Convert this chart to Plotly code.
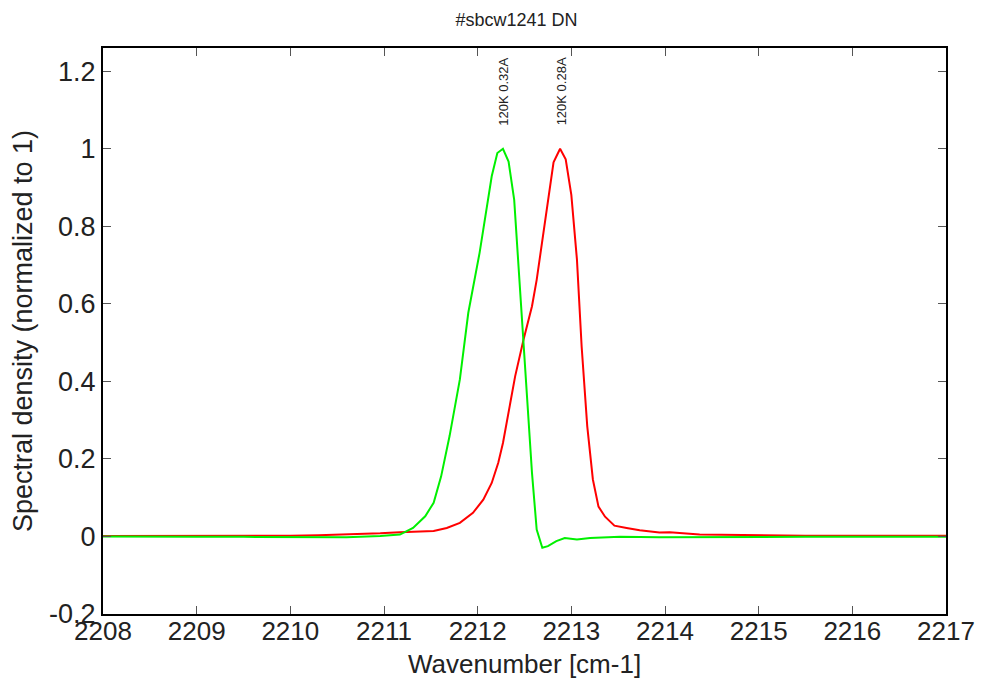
import plotly.graph_objects as go

# Green series: 120K 0.32A
green_x = [2208.0, 2208.5, 2209.0, 2209.5, 2210.0, 2210.3, 2210.6, 2210.96, 2211.17, 2211.31,
           2211.44, 2211.53, 2211.61, 2211.70, 2211.81, 2211.90, 2212.02, 2212.15, 2212.21,
           2212.27, 2212.33, 2212.39, 2212.44, 2212.49, 2212.54, 2212.58, 2212.63, 2212.69,
           2212.75, 2212.84, 2212.93, 2213.06, 2213.20, 2213.52, 2213.94, 2214.5, 2215.0,
           2215.5, 2216.0, 2216.5, 2217.0]
green_y = [0.0, -0.001, -0.001, -0.001, -0.002, -0.003, -0.002, 0.001, 0.005, 0.022,
           0.052, 0.087, 0.155, 0.259, 0.405, 0.577, 0.731, 0.929, 0.989,
           1.0, 0.967, 0.868, 0.688, 0.508, 0.302, 0.164, 0.018, -0.029,
           -0.025, -0.012, -0.004, -0.008, -0.004, -0.001, -0.002, -0.001, -0.001,
           -0.001, -0.001, -0.001, -0.001]

# Red series: 120K 0.28A
red_x = [2208.0, 2208.5, 2209.0, 2209.5, 2210.0, 2210.3, 2210.64, 2210.96, 2211.17, 2211.38,
         2211.53, 2211.67, 2211.81, 2211.95, 2212.06, 2212.15, 2212.22, 2212.27, 2212.33,
         2212.40, 2212.49, 2212.58, 2212.63, 2212.70, 2212.76, 2212.81, 2212.88, 2212.94,
         2213.00, 2213.06, 2213.11, 2213.17, 2213.23, 2213.29, 2213.36, 2213.46, 2213.59,
         2213.73, 2213.94, 2214.05, 2214.37, 2214.9, 2215.5, 2216.0, 2216.5, 2217.0]
red_y = [0.001, 0.001, 0.001, 0.002, 0.002, 0.003, 0.005, 0.008, 0.011, 0.013,
         0.014, 0.022, 0.035, 0.061, 0.095, 0.138, 0.190, 0.241, 0.319,
         0.413, 0.508, 0.594, 0.662, 0.782, 0.886, 0.965, 1.0, 0.973,
         0.881, 0.714, 0.490, 0.284, 0.147, 0.077, 0.051, 0.028, 0.022,
         0.016, 0.010, 0.011, 0.005, 0.003, 0.002, 0.002, 0.002, 0.002]

labels = ["120K 0.32A", "120K 0.28A"]
label_x = [2212.28, 2212.895]

x_ticks = [2208, 2209, 2210, 2211, 2212, 2213, 2214, 2215, 2216, 2217]
y_ticks = [-0.2, 0, 0.2, 0.4, 0.6, 0.8, 1, 1.2]
y_ticktext = ["-0.2", "0", "0.2", "0.4", "0.6", "0.8", "1", "1.2"]

font_family = "Liberation Sans, Arial, sans-serif"
txt_color = "#222222"

fig = go.Figure()
fig.add_trace(go.Scatter(x=red_x, y=red_y, mode="lines",
                         line=dict(color="#ff0000", width=2), name=labels[1]))
fig.add_trace(go.Scatter(x=green_x, y=green_y, mode="lines",
                         line=dict(color="#00f000", width=2), name=labels[0]))

for lx, lt in zip(label_x, labels):
    fig.add_annotation(x=lx, y=1.054, yref="y", xref="x", text=lt, showarrow=False,
                       textangle=-90, yanchor="bottom", xanchor="center",
                       font=dict(size=13, color=txt_color, family=font_family))

# x-axis title placed as an annotation below the tick labels
fig.add_annotation(x=0.5, y=0, xref="paper", yref="paper", yshift=-50,
                   text="Wavenumber [cm-1]", showarrow=False,
                   xanchor="center", yanchor="middle",
                   font=dict(size=26, color=txt_color, family=font_family))

# page body adds an 8px offset, so the figure is 8px smaller than the window
fig.update_layout(
    width=978, height=671,
    margin=dict(l=95, r=40, t=40, b=65),
    paper_bgcolor="white", plot_bgcolor="white",
    showlegend=False,
    title=dict(text="#sbcw1241 DN", x=(516.5 - 8) / 978, xanchor="center",
               y=1 - 12 / 671, yanchor="middle",
               font=dict(size=18, color=txt_color, family=font_family)),
    font=dict(family=font_family, color=txt_color),
)
fig.update_xaxes(range=[2208, 2217], tickvals=x_ticks, ticks="inside", ticklen=8,
                 tickwidth=1, tickcolor="#555555", showline=True, linecolor="black",
                 linewidth=2, mirror="ticks", showgrid=False, zeroline=False,
                 tickfont=dict(size=26, color=txt_color), ticklabelstandoff=-7)
fig.update_yaxes(range=[-0.2, 1.26], tickvals=y_ticks, ticktext=y_ticktext, ticks="inside",
                 ticklen=8, tickwidth=1, tickcolor="#555555", showline=True, linecolor="black",
                 linewidth=2, mirror="ticks", showgrid=False, zeroline=False,
                 tickfont=dict(size=27, color=txt_color),
                 title=dict(text="Spectral density (normalized to 1)",
                            font=dict(size=27, color=txt_color), standoff=9))

fig.write_html("out.html")
